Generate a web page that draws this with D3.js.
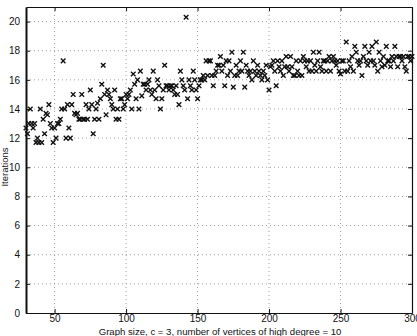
<!DOCTYPE html>
<html>
<head>
<meta charset="utf-8">
<script src="https://cdn.jsdelivr.net/npm/d3@7"></script>
<style>
  html, body { margin: 0; padding: 0; background: #fff; }
  svg { display: block; font-family: "Liberation Sans", Arial, sans-serif; }
</style>
</head>
<body>
<svg id="chart"></svg>
<script>
const width = 417;
const height = 336;

// graph size (x) and iterations (y)
const graphSize = [
  30,31,32,33,34,35,36,37,38,39,40,41,42,43,44,45,46,47,48,49,
  50,51,52,53,54,55,56,57,58,59,60,61,62,63,64,65,66,67,68,69,
  70,71,72,73,74,75,76,77,78,79,80,81,82,83,84,85,86,87,88,89,
  90,91,92,93,94,95,96,97,98,99,100,101,102,103,104,105,106,107,108,109,
  110,111,112,113,114,115,116,117,118,119,120,121,122,123,124,125,126,127,128,129,
  130,131,132,133,134,135,136,137,138,139,140,141,142,143,144,145,146,147,148,149,
  150,151,152,153,154,155,156,157,158,159,160,161,162,163,164,165,166,167,168,169,
  170,171,172,173,174,175,176,177,178,179,180,181,182,183,184,185,186,187,188,189,
  190,191,192,193,194,195,196,197,198,199,200,201,202,203,204,205,206,207,208,209,
  210,211,212,213,214,215,216,217,218,219,220,221,222,223,224,225,226,227,228,229,
  230,231,232,233,234,235,236,237,238,239,240,241,242,243,244,245,246,247,248,249,
  250,251,252,253,254,255,256,257,258,259,260,261,262,263,264,265,266,267,268,269,
  270,271,272,273,274,275,276,277,278,279,280,281,282,283,284,285,286,287,288,289,
  290,291,292,293,294,295,296,297,298,299,300
];
const iterations = [
  12.7,12.3,13,14,13,12.7,13,11.7,12,11.7,14,11.7,13.3,12.3,13.7,13.6,14.3,13,12.7,11.7,
  12.7,12,13,13,13.3,14,17.3,14,12,14.3,12.7,12,14.3,15,13.7,13.6,13.7,13.3,13.3,15,
  13.3,13.3,14.3,13.3,14,15.3,14.3,12.3,13.3,14,14.4,13.3,14.7,15.7,17,15,13.6,15.3,15,14.7,
  14.3,14,15.3,13.3,14,13.3,14.7,14.7,14,14.3,15,14.7,15,15.3,14,16.4,15.7,14.7,16,14,
  16.6,14.9,15.7,15.7,15.3,15.7,16,15.3,15,16.6,15.3,14.7,16,15.6,14,14.7,15.3,17,15.6,15.6,
  15.3,15.6,15.6,15.3,15,15.6,15,14.3,16.6,16,15.6,15.3,20.3,14.7,16,15.6,15.3,16.6,16,15.3,
  14.7,15.6,16,16,16.3,16,17.3,16.3,17.3,17.3,16.3,15.6,16.3,16.6,17,17,17.6,16.6,17,15.6,
  17.3,16.3,17.3,16.6,17.9,15.5,16.3,17,16.3,16.6,17.3,16.6,17.9,15.5,17,16.6,16.3,16.6,16,17.3,
  16.6,16.3,17,16.6,16.3,16,16.6,16.3,17,16,15.3,16.9,17,17.3,16.6,15.6,17.3,16.9,16.6,17.3,
  16.3,16.9,17.6,16.9,16.6,17.6,16.9,16.3,16.3,17.3,16.6,16.3,17.3,16.3,17.6,17.3,16.9,17.3,16.6,17.3,
  16.6,17.9,17,16.6,17.3,17.9,16.9,16.6,17.3,17.3,16.6,17.3,17.6,16.6,17.3,17.6,17.3,17,17.3,16.6,
  16.4,17.3,17.3,16.6,18.6,16.6,17.3,16.9,17.6,16.6,18.3,17.9,17.3,17,17.3,16.3,17.6,18.3,17.3,17,
  17.9,17.3,18.3,17.3,17,18.6,16.6,17.9,17.3,16.9,17.6,17,18.3,17.3,17.3,16.9,17.6,17.3,18.3,17.6,
  16.9,17.6,17.6,17.3,17.6,16.9,16.6,17.6,17.6,17.3,17.6
];
const xTicks = [50, 100, 150, 200, 250, 300];
const yTicks = [0, 2, 4, 6, 8, 10, 12, 14, 16, 18, 20];

const margin = { top: 7, right: 5, bottom: 23, left: 26 };

const svg = d3.select("#chart")
  .attr("width", width)
  .attr("height", height);

const x = d3.scaleLinear().domain([30, 300]).range([margin.left, width - margin.right]);
const y = d3.scaleLinear().domain([0, 21]).range([height - margin.bottom, margin.top]);

// dotted grid
svg.append("g")
  .selectAll("line")
  .data(xTicks.filter(d => d < 300))
  .join("line")
  .attr("x1", d => x(d)).attr("x2", d => x(d))
  .attr("y1", y(21)).attr("y2", y(0))
  .attr("stroke", "#888")
  .attr("stroke-width", 0.8)
  .attr("stroke-dasharray", "1,3");

svg.append("g")
  .selectAll("line")
  .data(yTicks.filter(d => d > 0))
  .join("line")
  .attr("x1", x(30)).attr("x2", x(300))
  .attr("y1", d => y(d)).attr("y2", d => y(d))
  .attr("stroke", "#888")
  .attr("stroke-width", 0.8)
  .attr("stroke-dasharray", "1,3");

// axes (ticks point inward, matlab style)
const xAxis = svg.append("g")
  .attr("transform", `translate(0,${y(0)})`)
  .call(d3.axisBottom(x).tickValues(xTicks).tickSizeInner(-4).tickSizeOuter(0).tickPadding(2));
const xTop = svg.append("g")
  .attr("transform", `translate(0,${y(21)})`)
  .call(d3.axisTop(x).tickValues(xTicks).tickSizeInner(-4).tickSizeOuter(0).tickFormat(""));
const yAxis = svg.append("g")
  .attr("transform", `translate(${x(30)},0)`)
  .call(d3.axisLeft(y).tickValues(yTicks).tickSizeInner(-4).tickSizeOuter(0).tickPadding(6));
const yRight = svg.append("g")
  .attr("transform", `translate(${x(300)},0)`)
  .call(d3.axisRight(y).tickValues(yTicks).tickSizeInner(-4).tickSizeOuter(0).tickFormat(""));

[xAxis, xTop, yAxis, yRight].forEach(g => {
  g.select(".domain").attr("stroke", "#111").attr("stroke-width", 1.2);
  g.selectAll(".tick line").attr("stroke", "#111");
  g.selectAll("text")
    .attr("fill", "#111")
    .attr("font-size", 10)
    .attr("font-family", "Liberation Sans, Arial, sans-serif");
});
yAxis.select(".domain").attr("stroke-width", 2);

// markers
const pts = graphSize.map((d, i) => ({ gs: d, it: iterations[i] }));
const s = 2.3;
svg.append("g")
  .selectAll("path")
  .data(pts)
  .join("path")
  .attr("d", d => {
    const cx = x(d.gs), cy = y(d.it);
    return `M${cx - s},${cy - s}L${cx + s},${cy + s}M${cx - s},${cy + s}L${cx + s},${cy - s}`;
  })
  .attr("stroke", "#111")
  .attr("stroke-width", 1.4)
  .attr("fill", "none");

// axis titles
svg.append("text")
  .attr("x", 220)
  .attr("y", 335)
  .attr("text-anchor", "middle")
  .attr("font-size", 9.6)
  .attr("fill", "#111")
  .text("Graph size, c = 3, number of vertices of high degree = 10");

svg.append("text")
  .attr("transform", `translate(8,167) rotate(-90)`)
  .attr("text-anchor", "middle")
  .attr("font-size", 9.5)
  .attr("fill", "#111")
  .text("Iterations");
</script>
</body>
</html>
